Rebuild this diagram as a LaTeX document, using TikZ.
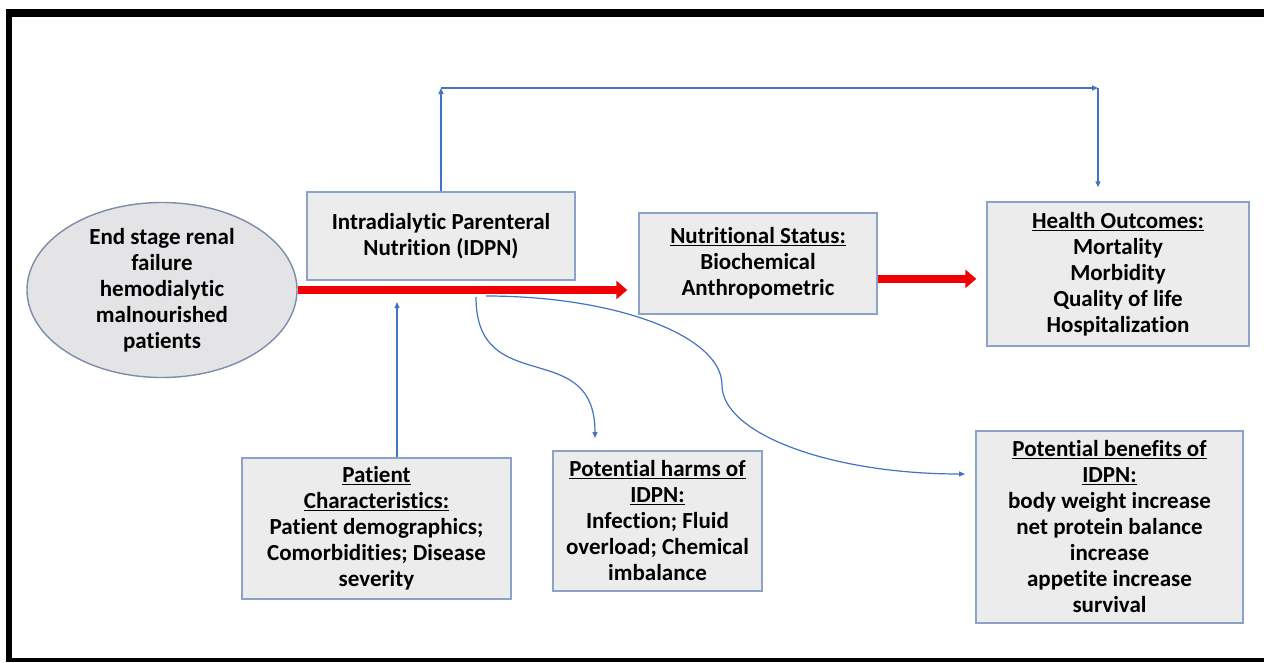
\documentclass[tikz,border=0pt]{standalone}
\usepackage{fontspec}
\setmainfont{Carlito}[Ligatures=NoCommon]
\usetikzlibrary{arrows.meta,shapes.geometric,calc}
\definecolor{boxfill}{RGB}{236,236,236}
\definecolor{boxline}{RGB}{140,162,198}
\definecolor{ellfill}{RGB}{228,228,230}
\definecolor{ellline}{RGB}{125,140,170}
\definecolor{connc}{RGB}{68,114,196}
\definecolor{redarr}{RGB}{240,0,0}
\begin{document}
\begin{tikzpicture}[x=1pt,y=-1pt,
  txt/.style={align=center,font=\bfseries\fontsize{23}{26}\selectfont,inner sep=0pt,text=black},
  box/.style={txt,draw=boxline,line width=1.4pt,fill=boxfill},
  conn/.style={draw=connc,line width=1.2pt,-{Triangle[length=6pt,width=5pt]}},
  bigarrow/.style={draw=redarr,line width=8pt,-{Triangle[length=11pt,width=18pt]}}]
\useasboundingbox (0,0) rectangle (1264,662);
% frame
\fill[black] (6,9) rectangle (1264,17);
\fill[black] (6,9) rectangle (12,662);
\fill[black] (6,658) rectangle (1264,662);

% nodes
\node[txt,ellipse,draw=ellline,line width=1.4pt,fill=ellfill,minimum width=270pt,minimum height=156pt] (esrf) at (162,290)
  {End stage renal\\failure\\hemodialytic\\malnourished\\patients};
\node[box,minimum width=268pt,minimum height=88pt] (idpn) at (441,236)
  {Intradialytic Parenteral\\Nutrition (IDPN)};
\node[box,minimum width=238pt,minimum height=101pt] (nut) at (758,263.5)
  {\underline{Nutritional Status:}\\Biochemical\\Anthropometric};
\node[box,minimum width=262pt,minimum height=144pt] (health) at (1118,274)
  {\underline{Health Outcomes:}\\Mortality\\Morbidity\\Quality of life\\Hospitalization};
\node[box,minimum width=269pt,minimum height=141pt] (patient) at (376.5,528.5)
  {\underline{Patient}\\\underline{Characteristics:}\\Patient demographics;\\Comorbidities; Disease\\severity};
\node[box,minimum width=209pt,minimum height=140pt] (harms) at (657.5,521)
  {\underline{Potential harms of}\\\underline{IDPN:}\\Infection; Fluid\\overload; Chemical\\imbalance};
\node[box,minimum width=267pt,minimum height=192pt] (benefits) at (1109.5,527)
  {\underline{Potential benefits of}\\\underline{IDPN:}\\body weight increase\\net protein balance\\increase\\appetite increase\\survival};

% red arrows
\draw[bigarrow,shorten >=11pt] (esrf.east) -- (esrf.east -| nut.west);
\coordinate (nr) at ($(nut.south east)!0.35!(nut.north east)$);
\draw[bigarrow,shorten >=10pt] (nr) -- (nr -| health.west);

% top elbow connector
\coordinate (c1) at (441,88);
\coordinate (c2) at (1098,88);
\draw[conn] (idpn.north) -- (c1);
\draw[conn] (c1) -- (c2);
\draw[conn,shorten >=14pt] (c2) -- (c2 |- health.north);

% patient characteristics arrow
\coordinate (pa) at (397,302);
\draw[conn] (pa |- patient.north) -- (pa);

% harms curve
\coordinate (hs) at (476,297);
\coordinate (ht) at (595,438);
\draw[conn] (hs) .. controls (476,400) and (595,335) .. (ht);

% benefits curve
\coordinate (bs) at (486,296);
\coordinate (bm) at (722,385);
\coordinate (bt) at (965,474);
\draw[conn] (bs) .. controls (616,296) and (722,336) .. (bm)
  .. controls (722,434) and (831,474) .. (bt);
\end{tikzpicture}
\end{document}
